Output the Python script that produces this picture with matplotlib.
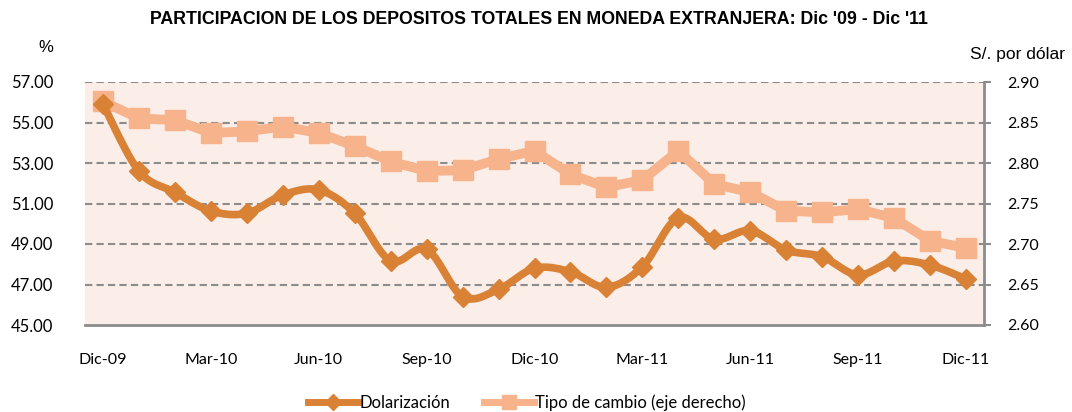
import numpy as np
import matplotlib
matplotlib.use("Agg")
import matplotlib.pyplot as plt
from matplotlib import font_manager as fm
from matplotlib.lines import Line2D

months = ["Dic-09", "Ene-10", "Feb-10", "Mar-10", "Abr-10", "May-10", "Jun-10",
          "Jul-10", "Ago-10", "Sep-10", "Oct-10", "Nov-10", "Dic-10",
          "Ene-11", "Feb-11", "Mar-11", "Abr-11", "May-11", "Jun-11",
          "Jul-11", "Ago-11", "Sep-11", "Oct-11", "Nov-11", "Dic-11"]
dolarizacion = [55.9, 52.6, 51.55, 50.63, 50.52, 51.42, 51.67, 50.52, 48.16, 48.74,
                46.40, 46.76, 47.80, 47.63, 46.86, 47.88, 50.30, 49.23, 49.66,
                48.70, 48.37, 47.47, 48.16, 47.96, 47.27]
tipo_cambio = [2.876, 2.855, 2.853, 2.837, 2.839, 2.845, 2.837, 2.821, 2.802, 2.790,
               2.791, 2.805, 2.815, 2.786, 2.770, 2.779, 2.815, 2.774, 2.764,
               2.741, 2.739, 2.743, 2.732, 2.704, 2.695]
left_ticks = [45.0, 47.0, 49.0, 51.0, 53.0, 55.0, 57.0]
right_ticks = [2.60, 2.65, 2.70, 2.75, 2.80, 2.85, 2.90]
shown_labels = ["Dic-09", "Mar-10", "Jun-10", "Sep-10", "Dic-10", "Mar-11", "Jun-11", "Sep-11", "Dic-11"]

names = {f.name for f in fm.fontManager.ttflist}
narrow = "Liberation Sans Narrow" if "Liberation Sans Narrow" in names else "Liberation Sans"
arial = "Liberation Sans"
body = "Lato"

C_DOL = "#D98236"
C_TC = "#F7B38B"
BG = "#FBEDE7"
GRID = "#8C8C8C"


def smooth(x, y, n=12, tension=0.5):
    # cardinal spline through the data points (Excel-like smoothed line)
    x = np.asarray(x, float); y = np.asarray(y, float)
    px = np.concatenate([[x[0]], x, [x[-1]]])
    py = np.concatenate([[y[0]], y, [y[-1]]])
    xs, ys = [], []
    for i in range(1, len(px) - 2):
        p0, p1, p2, p3 = (np.array([px[j], py[j]]) for j in (i - 1, i, i + 1, i + 2))
        m1 = tension * (p2 - p0)
        m2 = tension * (p3 - p1)
        t = np.linspace(0, 1, n, endpoint=False)[:, None]
        h00 = 2 * t**3 - 3 * t**2 + 1
        h10 = t**3 - 2 * t**2 + t
        h01 = -2 * t**3 + 3 * t**2
        h11 = t**3 - t**2
        pts = h00 * p1 + h10 * m1 + h01 * p2 + h11 * m2
        xs.extend(pts[:, 0]); ys.extend(pts[:, 1])
    xs.append(x[-1]); ys.append(y[-1])
    return np.array(xs), np.array(ys)


fig = plt.figure(figsize=(10.72, 4.12), dpi=100)
rect = [85 / 1072, 1 - 325 / 412, (984 - 85) / 1072, (325 - 82) / 412]
ax2 = fig.add_axes(rect)          # right axis (background, tipo de cambio)
ax = fig.add_axes(rect, sharex=ax2)  # left axis (dolarización, on top)
ax2.yaxis.tick_right()
ax2.set_facecolor(BG)
ax.patch.set_visible(False)

x = np.arange(len(months))

ax2.plot(x, tipo_cambio, color=C_TC, lw=7, marker="s", ms=14, mec=C_TC, mfc=C_TC,
         solid_joinstyle="round", zorder=3)
sx, sy = smooth(x, dolarizacion)
ax.plot(sx, sy, color=C_DOL, lw=5.5, solid_capstyle="round", zorder=3)
ax.plot(x, dolarizacion, ls="none", marker="D", ms=10, color=C_DOL, zorder=4)

ax.set_xlim(-0.5, len(months) - 0.5)
ax.set_ylim(45, 57)
ax2.set_ylim(2.60, 2.90)
ax.set_yticks(left_ticks)
ax.set_yticklabels([f"{v:.2f}" for v in left_ticks], fontfamily=body, fontsize=12)
ax2.set_yticks(right_ticks)
ax2.set_yticklabels([f"{v:.2f}" for v in right_ticks], fontfamily=body, fontsize=11.5)

for v in left_ticks[1:]:
    ax2.axhline((v - 45) / 12 * 0.30 + 2.60, color=GRID, lw=1.5, ls=(0, (3.5, 2)), zorder=1)

idx = [months.index(m) for m in shown_labels]
ax.set_xticks(idx)
ax.set_xticklabels(shown_labels, fontfamily=body, fontsize=11.5)
ax2.tick_params(axis="x", labelbottom=False, length=0)
ax.tick_params(axis="x", length=0, pad=20)
ax.tick_params(axis="y", length=0, pad=23)
ax2.tick_params(axis="y", length=5, width=1.5, color=GRID, pad=12)

for a in (ax, ax2):
    for s in ("top", "left", "right"):
        a.spines[s].set_visible(False)
ax2.spines["bottom"].set_visible(False)
ax.spines["bottom"].set_color(GRID)
ax.spines["bottom"].set_linewidth(2)
ax2.spines["right"].set_visible(True)
ax2.spines["right"].set_color(GRID)
ax2.spines["right"].set_linewidth(2)

fig.text(539 / 1072, 1 - 20 / 412, "PARTICIPACION DE LOS DEPOSITOS TOTALES EN MONEDA EXTRANJERA: Dic '09 - Dic '11",
         ha="center", va="center", fontsize=12.8, fontweight="bold", fontfamily=narrow)
fig.text(46 / 1072, 1 - 47 / 412, "%", ha="center", va="center", fontsize=12, fontfamily=arial)
fig.text(1017 / 1072, 1 - 54 / 412, "S/. por dólar", ha="center", va="center", fontsize=12.5, fontfamily=arial)

h1 = Line2D([], [], color=C_DOL, lw=5, marker="D", ms=8)
h2 = Line2D([], [], color=C_TC, lw=5, marker="s", ms=10)
fig.legend([h1, h2], ["Dolarización", "Tipo de cambio (eje derecho)"], loc="center",
           bbox_to_anchor=(527 / 1072, 1 - 403 / 412), ncol=2, frameon=False,
           prop={"family": body, "size": 12}, handlelength=3, handletextpad=0.1, columnspacing=2)

fig.savefig("out.png", dpi=100)
